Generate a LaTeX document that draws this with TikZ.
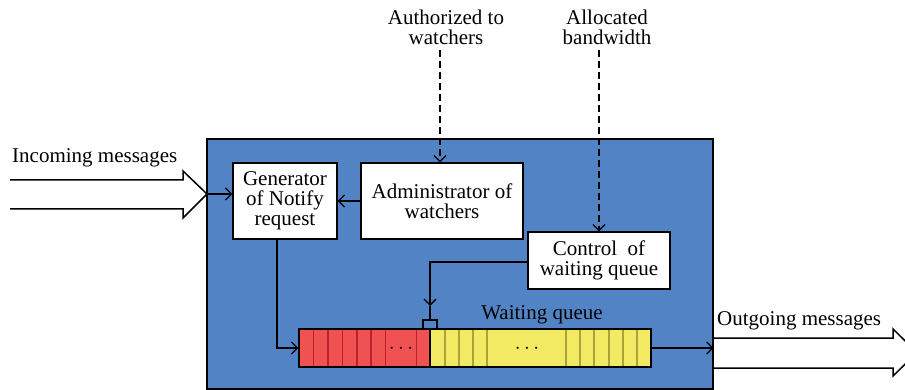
\documentclass[tikz,border=0pt]{standalone}
\usepackage{fontspec}
\setmainfont{Liberation Serif}
\usetikzlibrary{arrows.meta}
\definecolor{sysblue}{RGB}{82,131,197}
\definecolor{qred}{RGB}{240,82,82}
\definecolor{qredline}{RGB}{185,35,45}
\definecolor{qyellow}{RGB}{241,234,98}
\definecolor{qyelline}{RGB}{170,162,60}
\begin{document}
\begin{tikzpicture}[x=1pt,y=-1pt,
  lbl/.style={font=\fontsize{21}{20}\selectfont, align=center, inner sep=0pt},
  box/.style={draw=black, line width=1.3pt, fill=white, lbl},
  conn/.style={line width=1.3pt, -{Straight Barb[length=6pt,width=12pt,line width=1.3pt]}},
  dconn/.style={conn, dash pattern=on 7pt off 4pt},
  bigarrow/.style={line width=1.5pt, line join=miter}
]
\useasboundingbox (0,0) rectangle (905,390);
% system block
\node[draw=black, line width=1.3pt, fill=sysblue, minimum width=506pt, minimum height=250pt, inner sep=0pt] (sys) at (460,264) {};
% boxes
\node[box, minimum width=104pt, minimum height=76pt] (gen) at (285,201) {Generator\\of Notify\\request};
\node[box, minimum width=162pt, minimum height=76pt] (adm) at (442,201) {Administrator of\\watchers};
\node[box, minimum width=142pt, minimum height=57pt] (ctl) at (599,260.5) {Control~ of\\waiting queue};
% queue
\fill[qred] (299,329) rectangle (430,367);
\fill[qyellow] (430,329) rectangle (651,367);
\foreach \x in {313.6,328,342.7,357,371,385.3,416.5}
  \draw[qredline, line width=1.2pt] (\x,329) -- (\x,367);
\foreach \x in {445,459,473,487,566,580,594,609,623,637}
  \draw[qyelline, line width=1.2pt] (\x,329) -- (\x,367);
\draw[black, line width=1.2pt] (430,329) -- (430,367);
\node[draw=black, line width=1.3pt, minimum width=352pt, minimum height=38pt, inner sep=0pt] (q) at (475,348) {};
\node[lbl] (dotsr) at (401,349) {$\cdots$};
\node[lbl] (dotsy) at (527,349) {$\cdots$};
\node[lbl, anchor=base] (ql) at (542,319) {Waiting queue};
% bracket
\coordinate (brk) at (430,320);
\draw[line width=1.3pt] (423,329) -- (423,320) -- (437,320) -- (437,329);
% labels top
\node[lbl] (auth) at (446,27) {Authorized to\\watchers};
\node[lbl] (alloc) at (607,27) {Allocated\\bandwidth};
\coordinate (authend) at (440,50);
\coordinate (allocend) at (599,50);
\draw[dconn] (authend) -- (authend|-adm.north);
\draw[dconn] (allocend) -- (allocend|-ctl.north);
% connectors
\draw[conn] (adm.west) -- (gen.west-|gen.east);
\coordinate (cq) at (430,306);
\coordinate (cstart) at (528,262);
\draw[conn] (cstart) -| (cq);
\draw[line width=1.3pt] (cq) -- (brk);
\coordinate (gdown) at (277,239);
\draw[conn] (gdown) |- (q.west);
\draw[conn] (q.east) -- (q.east-|sys.east);
% incoming big arrow
\coordinate (intip) at (207,194);
\draw[bigarrow] (10,180) -- (183,180) -- (183,171) -- (intip) -- (183,218) -- (183,209) -- (10,209);
\draw[conn] (intip) -- (gen.west|-intip);
\node[lbl, anchor=base west] (inl) at (12,163) {Incoming messages};
% outgoing big arrow
\draw[bigarrow] (713,338) -- (893,338) -- (893,329) -- (917,352.5) -- (893,376) -- (893,368) -- (713,368);
\node[lbl, anchor=base west] (outl) at (717,325) {Outgoing messages};
\end{tikzpicture}
\end{document}
